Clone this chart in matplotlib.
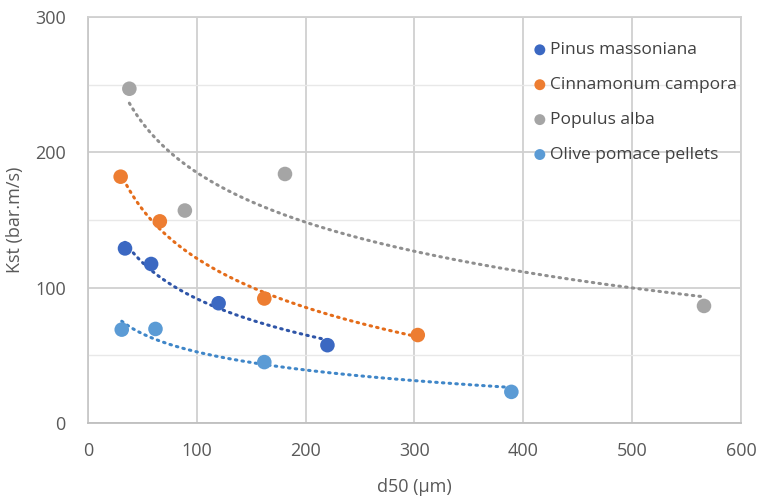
import numpy as np
import matplotlib
matplotlib.use('Agg')
import matplotlib.pyplot as plt

# d50 (um) and Kst (bar.m/s)
pinus_x = [34, 58, 120, 220]
pinus_y = [129, 117.5, 88.5, 57.5]
cinna_x = [30, 66, 162, 303]
cinna_y = [182, 149, 92, 65]
populus_x = [38, 89, 181, 566]
populus_y = [247, 157, 184, 86.5]
olive_x = [31, 62, 162, 389]
olive_y = [69, 69.5, 45, 23]

series = [
    ("Pinus massoniana", pinus_x, pinus_y, "#3B68C2", "#2F55A8"),
    ("Cinnamonum campora", cinna_x, cinna_y, "#ED7D31", "#E46C1A"),
    ("Populus alba", populus_x, populus_y, "#A5A5A5", "#8F8F8F"),
    ("Olive pomace pellets", olive_x, olive_y, "#5B9BD5", "#3F86C8"),
]

plt.rcParams['font.family'] = ['Open Sans', 'DejaVu Sans']

fig = plt.figure(figsize=(7.59, 5.0), dpi=100)
ax = fig.add_axes([88 / 759, 77 / 500, 653 / 759, 406 / 500])

for label, xs, ys, color, tcolor in series:
    xs = np.array(xs, dtype=float)
    ys = np.array(ys, dtype=float)
    # logarithmic trendline y = a + b*ln(x), like Excel
    b, a = np.polyfit(np.log(xs), ys, 1)
    xt = np.linspace(xs.min(), xs.max(), 200)
    ax.plot(xt, a + b * np.log(xt), linestyle=(0, (0.5, 1.7)), color=tcolor,
            lw=2.2, dash_capstyle='round', zorder=2)
    ax.scatter(xs, ys, s=110, color=color, zorder=3, label=label, edgecolors='none')

ax.set_xlim(0, 600)
ax.set_ylim(0, 300)
ax.set_xticks(range(0, 601, 100))
ax.set_yticks(range(0, 301, 100))
ax.set_yticks(range(50, 300, 100), minor=True)
ax.grid(True, which='major', color='#D0D0D0', lw=1.3)
ax.grid(True, which='minor', axis='y', color='#E8E8E8', lw=1.0)
ax.set_axisbelow(True)

for side in ['top', 'right']:
    ax.spines[side].set_color('#D0D0D0')
    ax.spines[side].set_linewidth(1.3)
ax.spines['left'].set_color('#C8C8C8')
ax.spines['left'].set_linewidth(1.3)
ax.spines['bottom'].set_color('#BFBFBF')
ax.spines['bottom'].set_linewidth(1.3)

ax.tick_params(which='both', length=0, labelsize=13, colors='#595959')
ax.tick_params(axis='y', pad=16)
ax.tick_params(axis='x', pad=14)
ax.set_xlabel("d50 (µm)", fontsize=13, color='#595959', labelpad=13)
ax.set_ylabel("Kst (bar.m/s)", fontsize=13, color='#595959', labelpad=8)

leg = ax.legend(loc='upper left', bbox_to_anchor=(0.668, 0.955), frameon=False,
                fontsize=12.5, labelspacing=1.08, handletextpad=0.1,
                markerscale=0.75, handlelength=1.0, borderaxespad=0)
for t in leg.get_texts():
    t.set_color('#404040')

fig.savefig("out.png", dpi=100)
